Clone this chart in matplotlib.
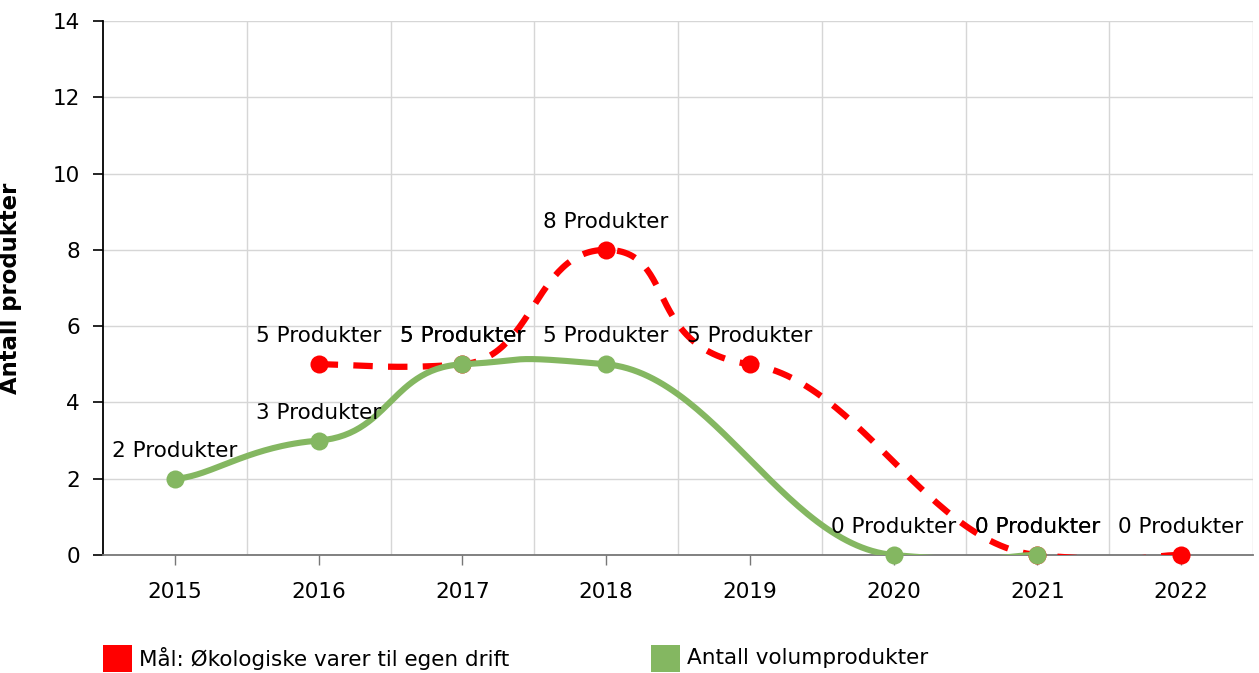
import numpy as np
import matplotlib
matplotlib.use('Agg')
import matplotlib.pyplot as plt
from matplotlib.patches import Rectangle

# ---- data ----
years = ['2015', '2016', '2017', '2018', '2019', '2020', '2021', '2022']
maal = [None, 5, 5, 8, 5, None, 0, 0]          # Mål: Økologiske varer til egen drift
volum = [2, 3, 5, 5, None, 0, 0, None]         # Antall volumprodukter
unit = 'Produkter'
ylabel = 'Antall produkter'
series_names = ['Mål: Økologiske varer til egen drift', 'Antall volumprodukter']
colors = ['#ff0000', '#84b761']
yticks = [0, 2, 4, 6, 8, 10, 12, 14]

plt.rcParams['font.family'] = ['DejaVu Sans']
plt.rcParams['lines.scale_dashes'] = False
FS = 15.5


def smooth(xs, ys, bx=4.0, by=20.0, n=60):
    """Smoothed line through points (cubic Bezier segments)."""
    pts = list(zip(xs, ys))
    N = len(pts)
    ox, oy = [pts[0][0]], [pts[0][1]]
    t = np.linspace(0, 1, n)[1:]
    for g in range(N - 1):
        k = pts[g]
        l = pts[g + 1]
        f = pts[g - 1] if g > 0 else k
        m = pts[g + 2] if g + 2 < N else l
        c1 = (k[0] + (l[0] - f[0]) / bx, k[1] + (l[1] - f[1]) / by)
        c2 = (l[0] - (m[0] - k[0]) / bx, l[1] - (m[1] - k[1]) / by)
        b0 = (1 - t) ** 3
        b1 = 3 * t * (1 - t) ** 2
        b2 = 3 * t ** 2 * (1 - t)
        b3 = t ** 3
        ox.extend(b0 * k[0] + b1 * c1[0] + b2 * c2[0] + b3 * l[0])
        oy.extend(b0 * k[1] + b1 * c1[1] + b2 * c2[1] + b3 * l[1])
    return np.array(ox), np.array(oy)


fig = plt.figure(figsize=(12.59, 6.73), dpi=100)
ax = fig.add_axes([103 / 1259, 1 - 555 / 673, 1150 / 1259, 534 / 673])

xi = np.arange(len(years))

for vals, col, dashed, z in [(maal, colors[0], True, 3), (volum, colors[1], False, 4)]:
    px = [x for x, v in zip(xi, vals) if v is not None]
    py = [v for v in vals if v is not None]
    sx, sy = smooth(px, py)
    if dashed:
        ax.plot(sx, sy, color=col, lw=4.5, dashes=(14, 11), dash_capstyle='butt', zorder=z)
    else:
        ax.plot(sx, sy, color=col, lw=4.4, zorder=z, solid_capstyle='round')
    ax.plot(px, py, 'o', color=col, ms=13, mec=col, mew=0, zorder=z + 0.5, clip_on=False)
    for x, v in zip(px, py):
        ax.annotate(f'{v} {unit}', (x, v), xytext=(0, 15.8), textcoords='offset points',
                    ha='center', va='baseline', fontsize=FS, color='black', zorder=10,
                    annotation_clip=False)

ax.set_xlim(-0.5, len(years) - 0.5)
ax.set_ylim(0, 14)
ax.set_xticks(xi)
ax.set_xticklabels(years)
ax.set_xticks(np.arange(-0.5, len(years) + 0.5, 1)[1:], minor=True)
ax.set_yticks(yticks)
ax.grid(True, axis='y', which='major', color='#d6d6d6', lw=1)
ax.grid(True, axis='x', which='minor', color='#d6d6d6', lw=1)
ax.grid(False, axis='x', which='major')
ax.set_axisbelow(True)

ax.tick_params(axis='x', which='major', length=7.5, width=1, color='#777777', pad=12,
               labelsize=FS, labelcolor='black')
ax.tick_params(axis='x', which='minor', length=0)
ax.tick_params(axis='y', which='major', length=7.5, width=1.2, color='black', pad=9,
               labelsize=FS, labelcolor='black')

for s in ['top', 'right']:
    ax.spines[s].set_visible(False)
ax.spines['left'].set_color('black')
ax.spines['left'].set_linewidth(1.3)
ax.spines['bottom'].set_color('#777777')
ax.spines['bottom'].set_linewidth(1.3)
ax.spines['bottom'].set_zorder(2.5)

ax.set_ylabel(ylabel, fontsize=16.4, fontweight='bold')
ax.yaxis.set_label_coords((22 - 103) / 1150, 0.5)

# ---- legend ----
W, H = 1259, 673
legend_box_x = [103, 651]
legend_text_x = [139, 687]
for bx, tx, name, col in zip(legend_box_x, legend_text_x, series_names, colors):
    fig.add_artist(Rectangle((bx / W, 1 / H), 29 / W, 27 / H, transform=fig.transFigure,
                             facecolor=col, edgecolor='none'))
    fig.text(tx / W, 1 - 658 / H, name, fontsize=FS, ha='left', va='center',
             color='black')

fig.savefig('out.png', dpi=100)
